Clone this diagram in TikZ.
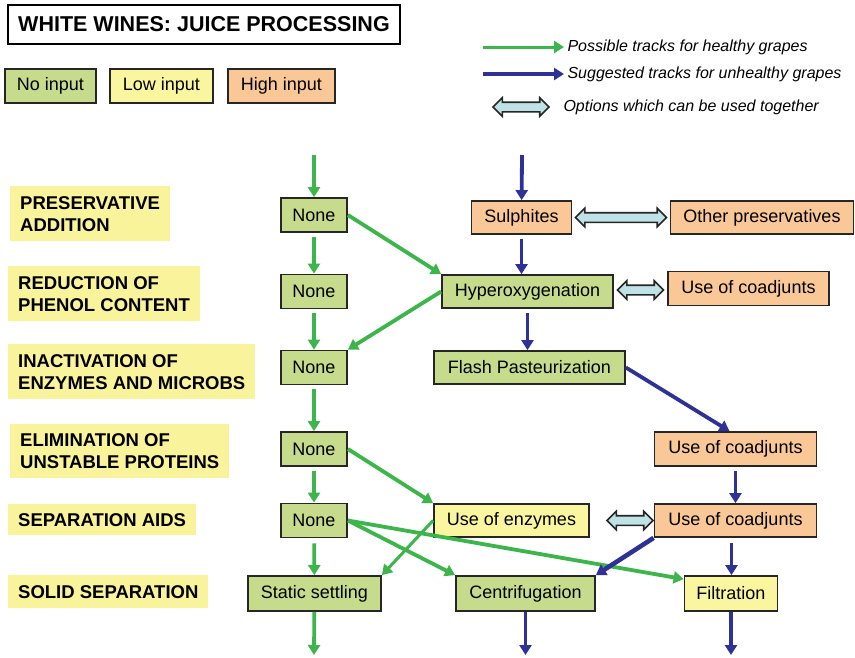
\documentclass[tikz,border=0pt]{standalone}
\usepackage{fontspec}
\setmainfont{Liberation Sans}
\usetikzlibrary{arrows.meta,shapes.arrows}
\definecolor{noinp}{RGB}{198,219,140}
\definecolor{lowinp}{RGB}{250,246,160}
\definecolor{highinp}{RGB}{250,200,150}
\definecolor{stagey}{RGB}{249,243,155}
\definecolor{okgreen}{RGB}{60,182,74}
\definecolor{badblue}{RGB}{46,50,150}
\definecolor{pairfill}{RGB}{190,226,230}

\begin{document}
\begin{tikzpicture}[x=1pt,y=-1pt,
    box/.style={draw=black!85, line width=1.8pt, minimum height=34pt, inner sep=2pt,
      font=\fontsize{18}{21}\selectfont},
    nobox/.style={box, fill=noinp},
    lowbox/.style={box, fill=lowinp},
    highbox/.style={box, fill=highinp},
    stage/.style={fill=stagey, anchor=north west, align=left, inner xsep=10pt, inner ysep=0pt,
      font=\bfseries\fontsize{18.5}{22}\selectfont},
    healthy/.style={draw=okgreen, line width=3.8pt, -{Triangle[length=10pt,width=12pt]}},
    unhealthy/.style={draw=badblue, line width=3.8pt, -{Triangle[length=10pt,width=12pt]}},
    pair/.style={double arrow, draw=black!85, fill=pairfill, line width=1.6pt,
      inner xsep=0pt, inner ysep=4pt, double arrow head extend=4.5pt},
    note/.style={anchor=west, font=\itshape\fontsize{16}{19}\selectfont}]
    \useasboundingbox[fill=white] (0,0) rectangle (855,657);

    % legend
    \node [draw, line width=2pt, minimum width=392pt, minimum height=39pt,
      font=\bfseries\fontsize{21.5}{24}\selectfont] (title) at (204,24.5) {WHITE WINES: JUICE PROCESSING};
    \node [nobox, minimum width=91pt] (noin) at (50.5,86) {No input};
    \node [lowbox, minimum width=103pt] (lowin) at (161.5,86) {Low input};
    \node [highbox, minimum width=107pt] (highin) at (281.5,86) {High input};
    \coordinate (lg) at (483,47);
    \coordinate (lb) at (483,74);
    \coordinate (lp) at (493,107);
    \coordinate (lq) at (549,107);
    \node [note] (tg) at (564,47) {Possible tracks for healthy grapes};
    \node [note] (tb) at (564,74) {Suggested tracks for unhealthy grapes};
    \node [note] (tp) at (560,107) {Options which can be used together};
    \draw [healthy, line width=3pt] (lg) to (tg);
    \draw [unhealthy, line width=3.4pt] (lb) to (tb);
    \path (lp) to node [pair, minimum height=56pt] {} (lq);

    % stages
    \node [stage, minimum height=55pt] (s1) at (10,186) {PRESERVATIVE\\ADDITION};
    \node [stage, minimum height=55pt] (s2) at (8,266) {REDUCTION OF\\PHENOL CONTENT};
    \node [stage, minimum height=55pt] (s3) at (8,344) {INACTIVATION OF\\ENZYMES AND MICROBS};
    \node [stage, minimum height=54pt] (s4) at (10,424) {ELIMINATION OF\\UNSTABLE PROTEINS};
    \node [stage, minimum height=31pt] (s5) at (8,504) {SEPARATION AIDS};
    \node [stage, minimum height=33pt] (s6) at (8,575) {SOLID SEPARATION};

    % healthy column
    \node [nobox, minimum width=66pt] (n1) at (314,215) {None};
    \node [nobox, minimum width=66pt] (n2) at (314,291.5) {None};
    \node [nobox, minimum width=66pt] (n3) at (314,367.5) {None};
    \node [nobox, minimum width=66pt] (n4) at (314,449) {None};
    \node [nobox, minimum width=66pt] (n5) at (314,520.5) {None};
    \node [nobox, minimum width=133pt, minimum height=35pt] (settle) at (314.5,593.5) {Static settling};

    % other options
    \node [highbox, minimum width=100pt, minimum height=33pt] (sulph) at (521.5,217.5) {Sulphites};
    \node [highbox, minimum width=183pt, minimum height=33pt] (other) at (762,217.5) {Other preservatives};
    \node [nobox, minimum width=171pt, minimum height=33pt] (hyper) at (527.5,291.5) {Hyperoxygenation};
    \node [highbox, minimum width=161pt] (coad1) at (748.5,288.5) {Use of coadjunts};
    \node [nobox, minimum width=191pt, minimum height=33pt] (flash) at (529.5,367.5) {Flash Pasteurization};
    \node [highbox, minimum width=162pt] (coad2) at (735.5,449) {Use of coadjunts};
    \node [highbox, minimum width=162pt, minimum height=33pt] (coad3) at (735.5,520.5) {Use of coadjunts};
    \node [lowbox, minimum width=155pt, minimum height=33pt] (enzym) at (511.5,520.5) {Use of enzymes};
    \node [nobox, minimum width=139pt, minimum height=35pt] (centri) at (525.5,593.5) {Centrifugation};
    \node [lowbox, minimum width=93pt, minimum height=35pt] (filt) at (731,593.5) {Filtration};

    \coordinate (gin) at (314,155);
    \coordinate (gout) at (314,655);
    \coordinate (bin) at (522,155);
    \coordinate (cout) at (525.5,655);
    \coordinate (fout) at (731,655);

    % healthy grapes
    \draw [healthy] (gin) to (n1);
    \draw [healthy, shorten <=4pt] (n1) to (n2);
    \draw [healthy, shorten <=4pt] (n2) to (n3);
    \draw [healthy, shorten <=4pt] (n3) to (n4);
    \draw [healthy, shorten <=4pt] (n4) to (n5);
    \draw [healthy, shorten <=5pt] (n5) to (settle);
    \draw [healthy] (settle) to (gout);
    \draw [healthy] (n1.east) to (hyper.north west);
    \draw [healthy] (hyper.west) to (n3.north east);
    \draw [healthy] (n4.east) to (enzym.north west);
    \draw [healthy] (n5.east) to (centri.north west);
    \draw [healthy] (n5.east) to ([yshift=-4pt]filt.north west);
    \draw [healthy, line width=3pt] (enzym.west) to (settle.north east);

    % unhealthy grapes
    \draw [unhealthy] (bin) to (sulph);
    \draw [unhealthy, shorten <=4pt] (sulph.south) to (sulph.south |- hyper.north);
    \draw [unhealthy, shorten <=4pt] (hyper.south) to (hyper.south |- flash.north);
    \draw [unhealthy] (flash.east) to ([xshift=-6pt]coad2.north);
    \draw [unhealthy, shorten <=4pt] (coad2.south) to (coad2.south |- coad3.north);
    \draw [unhealthy, shorten <=5pt] ([xshift=-4pt]coad3.south) to ([xshift=-4pt]coad3.south |- filt.north);
    \draw [unhealthy, line width=4.6pt] (coad3.south west) to (centri.north east);
    \draw [unhealthy] (centri) to (cout);
    \draw [unhealthy] (filt) to (fout);

    % options used together
    \path (sulph.east) to node [pair, minimum height=91pt] {} (other.west);
    \path (hyper.east) to node [pair, minimum height=46pt] {} (coad1.west);
    \path (enzym.east) to node [pair, minimum height=46pt, pos=.63] {} (coad3.west);
  \end{tikzpicture}
\end{document}
